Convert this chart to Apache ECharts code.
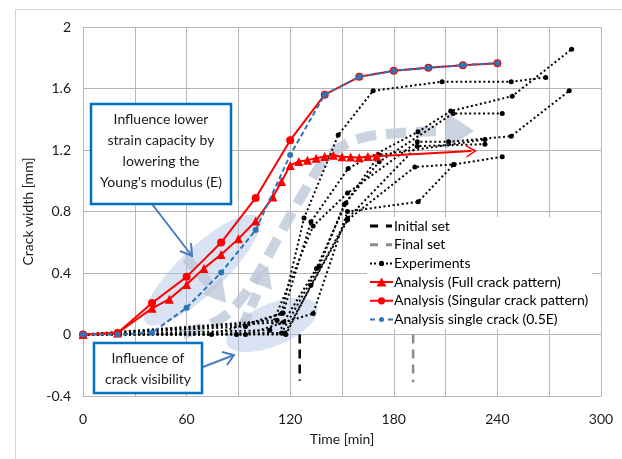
<!DOCTYPE html>
<html><head><meta charset="utf-8">
<script src="https://cdn.jsdelivr.net/npm/echarts@6/dist/echarts.min.js"></script>
<style>html,body{margin:0;padding:0;background:#fff}#c{width:622px;height:459px}</style>
</head><body><div id="c"></div>
<script>
// ---------- data ----------
const legendNames = ['Initial set','Final set','Experiments','Analysis (Full crack pattern)','Analysis (Singular crack pattern)','Analysis single crack (0.5E)'];
const fullCrack = [[0,0],[20,0.01],[40,0.17],[50,0.23],[60,0.325],[70,0.43],[80,0.52],[90,0.622],[100,0.738],[110,0.895],[115,0.995],[120,1.1],[125,1.125],[130,1.134],[135,1.147],[140,1.158],[145,1.166],[150,1.156],[155,1.154],[160,1.15],[165,1.158],[170,1.16]];
const fullArrow = [[170,1.16],[225,1.193]];
const singular = [[0,0],[20,0.01],[40,0.205],[60,0.375],[80,0.598],[100,0.888],[120,1.264],[140,1.56],[160,1.676],[180,1.715],[200,1.735],[220,1.752],[240,1.765]];
const halfE = [[0,0],[20,0],[40,0.012],[60,0.174],[80,0.403],[100,0.679],[120,1.168],[140,1.56],[160,1.676],[180,1.715],[200,1.735],[220,1.752],[240,1.765]];
const initialSet = [[125.5,0],[125.5,-0.3]];
const finalSet = [[191.2,0],[191.2,-0.31]];
const exp1 = [[0,0],[74.4,0],[115,0.137],[128,0.757],[147.8,1.297],[168,1.585],[208,1.644],[248,1.644],[268,1.672]];
const exp2 = [[0,0],[94.1,0.052],[115.9,0.14],[132,0.733],[153.6,1.08],[194,1.318],[213,1.453],[248.6,1.55],[283,1.856]];
const exp3 = [[0,0],[108.2,0.028],[133.3,0.705],[153.2,0.92],[193.6,1.253],[211.7,1.253],[248,1.29],[281.6,1.585]];
const exp4 = [[0,0],[115,0.01],[136.6,0.44],[151.3,0.846],[171.5,1.123],[214.4,1.438],[242.8,1.438]];
const exp5 = [[0,0],[116.3,0.082],[135.2,0.43],[152.3,0.856],[171.5,1.167],[232.8,1.269]];
const exp6 = [[0,0],[88.9,0],[117.5,0],[132,0.32],[153.2,0.755],[193.6,1.225],[232.8,1.238]];
const exp7 = [[0,0],[94.1,0],[133.3,0.137],[153.2,0.8],[194.1,0.863],[214.8,1.106],[242.8,1.156]];
const exp8 = [[0,0],[112.4,0.093],[116.9,0.006],[153.2,0.744],[192.2,1.09],[214.8,1.106]];
const experiments = [exp1,exp2,exp3,exp4,exp5,exp6,exp7,exp8];

// ---------- chart ----------
const FONT = 'Lato';
const chart = echarts.init(document.getElementById('c'), null, {renderer:'canvas'});
const expSeries = experiments.map(d => ({
  name:'Experiments', type:'line', data:d, symbol:'circle', symbolSize:5,
  itemStyle:{color:'#000'}, lineStyle:{color:'#000', width:2, type:[2,2.6]}, z:3, silent:true
}));
const arrowPath = 'path://M0,10L6,0L12,10L10.4,10L6,2.8L1.6,10Z';
// legend icons (23 x 12 box, tiny corner marks fix the bounding box)
const BOX = 'M0,0h0.01v0.01h-0.01z M22.99,11.99h0.01v0.01h-0.01z ';
const icons = {
  'Initial set': 'path://' + BOX + 'M0,4.5h8v3h-8z M16,4.5h6v3h-6z',
  'Final set': 'path://' + BOX + 'M0,4.5h8v3h-8z M16,4.5h6v3h-6z',
  'Experiments': 'path://' + BOX + 'M0,5h2v2h-2z M4,5h2v2h-2z M16,5h2v2h-2z M20,5h2v2h-2z M8.9,6a2.6,2.6 0 1,1 5.2,0a2.6,2.6 0 1,1 -5.2,0z',
  'Analysis (Full crack pattern)': 'path://' + BOX + 'M0,5h23v2h-23z M11.5,1.5L16.5,10.5L6.5,10.5z',
  'Analysis (Singular crack pattern)': 'path://' + BOX + 'M0,5h8v2h-8z M15,5h8v2h-8z M7.9,6a3.6,3.6 0 1,1 7.2,0a3.6,3.6 0 1,1 -7.2,0z',
  'Analysis single crack (0.5E)': 'path://' + BOX + 'M0,5h5v2h-5z M18,5h5v2h-5z M9,6a2.5,2.5 0 1,1 5,0a2.5,2.5 0 1,1 -5,0z'
};
const option = {
  animation:false,
  textStyle:{fontFamily:FONT},
  grid:{left:83, right:21, top:27, bottom:63},
  xAxis:{type:'value', min:0, max:300, interval:30,
    name:'Time [min]', nameLocation:'middle', nameGap:36,
    nameTextStyle:{fontFamily:FONT, fontSize:14, color:'#1a1a1a'},
    axisLine:{onZero:false, lineStyle:{color:'#b7b7b7'}}, axisTick:{show:false},
    axisLabel:{margin:16, fontFamily:FONT, fontSize:14, color:'#1a1a1a', formatter:v => (v % 60 === 0 ? String(v) : '')},
    splitLine:{show:true, lineStyle:{color:'#b7b7b7', width:1}}},
  yAxis:{type:'value', min:-0.4, max:2, interval:0.4,
    name:'Crack width [mm]', nameLocation:'middle', nameGap:42,
    nameTextStyle:{fontFamily:FONT, fontSize:14, color:'#1a1a1a'},
    axisLine:{show:true, lineStyle:{color:'#b7b7b7'}}, axisTick:{show:false},
    axisLabel:{margin:12, fontFamily:FONT, fontSize:14, color:'#1a1a1a', formatter:v => String(Math.round(v*10)/10)},
    splitLine:{show:true, lineStyle:{color:'#b7b7b7', width:1}}},
  legend:{orient:'vertical', left:367, top:217,
    data:legendNames.map(n => ({name:n, icon:icons[n]})),
    itemWidth:23, itemHeight:12, itemGap:4.7, backgroundColor:'#fff', padding:[2,4,3,3],
    textStyle:{fontFamily:FONT, fontSize:14, color:'#000', padding:[0,0,0,-4]}},
  series:[
    {name:'Initial set', type:'line', data:initialSet, symbol:'none',
      itemStyle:{color:'#000'}, lineStyle:{color:'#000', width:2.5, type:[9,6]}, z:3, silent:true},
    {name:'Final set', type:'line', data:finalSet, symbol:'none',
      lineStyle:{color:'#8c8c8c', width:2.5, type:[9,6]}, itemStyle:{color:'#8c8c8c'}, z:3, silent:true},
    ...expSeries,
    {name:'Analysis (Full crack pattern)', type:'line', data:fullCrack, symbol:'triangle', symbolSize:9,
      itemStyle:{color:'#ff0000'}, lineStyle:{color:'#ff0000', width:2}, z:4, silent:true,
      markLine:{silent:true, symbol:['none', arrowPath], symbolSize:[13,11], label:{show:false},
        lineStyle:{color:'#ff0000', width:2, type:'solid'}, emphasis:{disabled:true},
        data:[[{coord:fullArrow[0]},{coord:fullArrow[1]}]]}},
    {name:'Analysis (Singular crack pattern)', type:'line', data:singular, symbol:'circle', symbolSize:8,
      itemStyle:{color:'#ff0000'}, lineStyle:{color:'#ff0000', width:2}, z:5, silent:true},
    {name:'Analysis single crack (0.5E)', type:'line', data:halfE, symbol:'circle', symbolSize:6,
      itemStyle:{color:'#2e75b6'}, lineStyle:{color:'#2e75b6', width:2, type:[5,3]}, z:6, silent:true}
  ],
  graphic:[
    {type:'rect', silent:true, z:-1, shape:{x:15.5, y:9.5, width:700, height:500}, style:{fill:null, stroke:'#d4d4d4', lineWidth:1}},
    // translucent ellipses
    {type:'ellipse', silent:true, z:1, x:202, y:270, rotation:0.757, shape:{cx:0, cy:0, rx:77, ry:23}, style:{fill:'rgba(170,194,228,0.45)'}},
    {type:'ellipse', silent:true, z:1, x:272, y:325, rotation:0.40, shape:{cx:0, cy:0, rx:49, ry:21}, style:{fill:'rgba(170,194,228,0.45)'}},
    // big grey dashed arrows
    {type:'polyline', silent:true, z:1, shape:{smooth:0.35, points:[[183,334],[222,318],[250,287],[278,238],[304,192],[328,157],[358,139],[400,133],[446,131]]},
      style:{fill:null, stroke:'rgba(190,200,216,0.8)', lineWidth:10, lineDash:[20,10]}},
    {type:'polygon', silent:true, z:1, shape:{points:[[446,112],[474,131],[446,149]]}, style:{fill:'rgba(190,200,216,0.8)'}},
    {type:'polyline', silent:true, z:1, shape:{points:[[186,258],[212,287]]},
      style:{fill:null, stroke:'rgba(190,200,216,0.8)', lineWidth:10, lineDash:[14,7]}},
    {type:'polygon', silent:true, z:1, shape:{points:[[202,294],[222,277],[226,303]]}, style:{fill:'rgba(190,200,216,0.8)'}},
    {type:'polyline', silent:true, z:1, shape:{points:[[243,326],[259,289]]},
      style:{fill:null, stroke:'rgba(190,200,216,0.8)', lineWidth:10, lineDash:[14,7]}},
    {type:'polygon', silent:true, z:1, shape:{points:[[250,281],[268,266],[272,290]]}, style:{fill:'rgba(190,200,216,0.8)'}},
    // blue arrows
    {type:'polyline', silent:true, z:50, shape:{points:[[152,204],[192,256]]}, style:{fill:null, stroke:'#4a7bc0', lineWidth:2}},
    {type:'polyline', silent:true, z:50, shape:{points:[[180,251],[192,256],[191,243]]}, style:{fill:null, stroke:'#4a7bc0', lineWidth:2}},
    {type:'polyline', silent:true, z:50, shape:{points:[[203,367],[234,355]]}, style:{fill:null, stroke:'#4a7bc0', lineWidth:2}},
    {type:'polyline', silent:true, z:50, shape:{points:[[222,352],[234,355],[227,365]]}, style:{fill:null, stroke:'#4a7bc0', lineWidth:2}},
    // text boxes
    {type:'rect', silent:true, z:60, shape:{x:91, y:104, width:140, height:100}, style:{fill:'#fff', stroke:'#0070c0', lineWidth:2.5}},
    {type:'text', silent:true, z:61, x:161, y:151, style:{text:'Influence lower\nstrain capacity by\nlowering the\nYoung\'s modulus (E)', fontFamily:FONT, fontSize:14, lineHeight:21, fill:'#1a1a1a', align:'center', verticalAlign:'middle'}},
    {type:'rect', silent:true, z:60, shape:{x:94, y:343, width:108, height:50}, style:{fill:'#fff', stroke:'#0070c0', lineWidth:2.5}},
    {type:'text', silent:true, z:61, x:148, y:369, style:{text:'Influence of\ncrack visibility', fontFamily:FONT, fontSize:14, lineHeight:21, fill:'#1a1a1a', align:'center', verticalAlign:'middle'}}
  ]
};
chart.setOption(option);
</script></body></html>
